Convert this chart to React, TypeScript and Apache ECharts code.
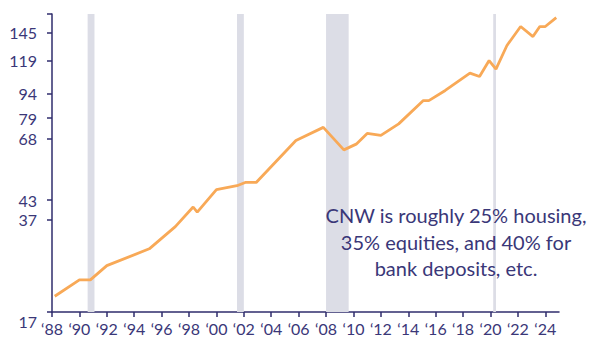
import React, { useEffect, useRef } from "react";
import * as echarts from "echarts";

// ---- data ----
const years = [
  1988.2, 1990.0, 1990.8, 1992.0, 1995.1, 1997.0, 1998.3, 1998.6, 2000.0, 2001.5,
  2002.1, 2002.9, 2005.8, 2007.8, 2009.3, 2010.2, 2011.0, 2012.0, 2013.3, 2015.1,
  2015.5, 2016.7, 2018.5, 2019.2, 2019.9, 2020.4, 2021.2, 2022.2, 2023.1, 2023.6,
  2024.0, 2024.8,
];
const cnw = [
  19.6, 22.6, 22.6, 25.5, 29.3, 35.0, 40.8, 39.2, 46.6, 48.0,
  49.2, 49.2, 67.2, 73.9, 62.7, 65.4, 70.7, 69.7, 75.8, 89.6,
  89.6, 96.3, 108.9, 106.3, 119.0, 112.0, 132.2, 150.9, 140.7, 150.9,
  150.9, 160.6,
];
const recessions = [
  [1990.6, 1991.1],
  [2001.5, 2002.0],
  [2008.0, 2009.65],
  [2020.2, 2020.4],
];
const xTickYears = [
  1988, 1990, 1992, 1994, 1996, 1998, 2000, 2002, 2004, 2006, 2008, 2010, 2012,
  2014, 2016, 2018, 2020, 2022, 2024,
];
const yTickLabels = [17, 37, 43, 68, 79, 94, 119, 145];
const xMin = 1988;
const xMax = 2025;
const yMin = 17;
const yMax = 164.6;
const annotation = [
  "CNW is roughly 25% housing,",
  "35% equities, and 40% for",
  "bank deposits, etc.",
];

// log-like axis transform used by the reference
const Y_SHIFT = 6.5;
const tf = (v: number) => Math.log(v + Y_SHIFT);
const inv = (t: number) => Math.exp(t) - Y_SHIFT;

const AXIS = "#2F2C6C";
const TEXT = "#3A3778";
const FONT = "Lato, 'Open Sans', sans-serif";

export default function App() {
  const ref = useRef<HTMLDivElement>(null);
  useEffect(() => {
    if (!ref.current) return;
    const chart = echarts.init(ref.current, null, { renderer: "svg" });
    chart.setOption({
      animation: false,
      textStyle: { fontFamily: FONT },
      grid: { left: 52, right: 44, top: 14, bottom: 29, containLabel: false },
      xAxis: {
        type: "value",
        min: xMin,
        max: xMax,
        splitLine: { show: false },
        axisLine: { show: true, lineStyle: { color: AXIS, width: 1.5 } },
        axisTick: {
          show: true,
          customValues: xTickYears,
          length: 5,
          lineStyle: { color: AXIS, width: 1.5 },
        },
        axisLabel: {
          customValues: xTickYears,
          formatter: (v: number) => "\u2018" + String(Math.round(v)).slice(2),
          color: TEXT,
          fontSize: 16,
          margin: 8,
          fontFamily: FONT,
        },
      },
      yAxis: {
        type: "value",
        min: tf(yMin),
        max: tf(yMax),
        splitLine: { show: false },
        axisLine: { show: true, lineStyle: { color: AXIS, width: 1.5 } },
        axisTick: {
          show: true,
          customValues: [...yTickLabels.map(tf), tf(yMax)],
          length: 5,
          lineStyle: { color: AXIS, width: 1.5 },
        },
        axisLabel: {
          customValues: yTickLabels.map(tf),
          formatter: (t: number) => {
            const v = Math.round(inv(t));
            return v === yMin ? "{low|" + v + "}" : String(v);
          },
          rich: { low: { padding: [18, 0, 0, 0], fontSize: 16, color: TEXT, fontFamily: FONT } },
          color: TEXT,
          fontSize: 16,
          margin: 15,
          fontFamily: FONT,
        },
      },
      series: [
        {
          type: "line",
          data: years.map((y, i) => [y, tf(cnw[i])]),
          showSymbol: false,
          symbol: "none",
          lineStyle: { color: "#F8A957", width: 2.8 },
          itemStyle: { color: "#F8A957" },
          z: 3,
          markArea: {
            silent: true,
            itemStyle: { color: "#DCDDE6" },
            data: recessions.map(([a, b]) => [{ xAxis: a }, { xAxis: b }]),
          },
        },
      ],
      graphic: [
        {
          type: "text",
          x: 456,
          y: 241.5,
          z: 100,
          zlevel: 0,
          style: {
            text: annotation.join("\n"),
            fill: TEXT,
            font: `20px ${FONT}`,
            fontSize: 20,
            fontFamily: FONT,
            lineHeight: 26.5,
            align: "center",
            verticalAlign: "middle",
          },
        },
      ],
    });
    return () => chart.dispose();
  }, []);
  return (
    <div
      ref={ref}
      style={{ position: "absolute", left: 0, top: 0, width: 603, height: 341 }}
    />
  );
}
